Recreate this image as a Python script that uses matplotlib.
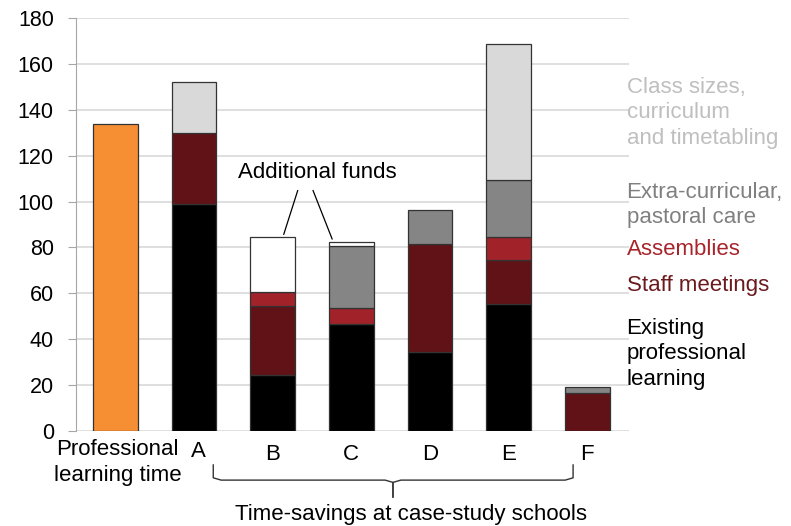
import matplotlib
matplotlib.use("Agg")
import matplotlib.pyplot as plt
import numpy as np

plt.rcParams['font.family'] = ['Liberation Sans', 'DejaVu Sans']

categories = ["Professional\nlearning time", "A", "B", "C", "D", "E", "F"]
prof_learning = [134, 0, 0, 0, 0, 0, 0]
existing = [0, 99, 24.5, 46.5, 34.5, 55.5, 0]
staff_meetings = [0, 31, 30, 0, 47, 19, 16.5]
assemblies = [0, 0, 6, 7, 0, 10, 0]
extra_curricular = [0, 0, 0, 27, 15, 25, 2.8]
class_sizes = [0, 22, 0, 0, 0, 59, 0]
additional_funds = [0, 0, 24, 2, 0, 0, 0]

series = [
    ("Existing\nprofessional\nlearning", existing, "#000000"),
    ("Staff meetings", staff_meetings, "#611217"),
    ("Assemblies", assemblies, "#A12228"),
    ("Extra-curricular,\npastoral care", extra_curricular, "#858585"),
    ("Class sizes,\ncurriculum\nand timetabling", class_sizes, "#D9D9D9"),
    ("Additional funds", additional_funds, "#FFFFFF"),
]
label_colors = {"Existing\nprofessional\nlearning": "#000000",
                "Staff meetings": "#6B1A1E",
                "Assemblies": "#A8242B",
                "Extra-curricular,\npastoral care": "#808080",
                "Class sizes,\ncurriculum\nand timetabling": "#BFBFBF"}
label_y = {"Existing\nprofessional\nlearning": 33.6,
           "Staff meetings": 63.6,
           "Assemblies": 79.3,
           "Extra-curricular,\npastoral care": 98.5,
           "Class sizes,\ncurriculum\nand timetabling": 138.6}

FS = 16
LS = 1.3

fig = plt.figure(figsize=(7.91, 5.26), dpi=100)
ax = fig.add_axes([0.0961, 0.1806, 0.699, 0.7852])

x = np.arange(len(categories))
w = 0.57
edge = "#333333"
ax.bar(x, prof_learning, width=w, color="#F68E33", edgecolor=edge, linewidth=0.9, zorder=3)
bottom = np.zeros(len(categories))
for name, vals, col in series:
    v = np.array(vals, dtype=float)
    mask = v > 0
    ax.bar(x[mask], v[mask], width=w, bottom=bottom[mask], color=col,
           edgecolor=edge, linewidth=0.9, zorder=3)
    bottom = bottom + v

ax.set_xlim(-0.5, 6.53)
ax.set_ylim(0, 180)
ax.set_yticks(np.arange(0, 181, 20))
ax.yaxis.grid(True, color="#D9D9D9", linewidth=1.2, zorder=0)
ax.set_axisbelow(True)
for s in ["top", "right", "bottom"]:
    ax.spines[s].set_visible(False)
ax.spines["left"].set_color("#A6A6A6")
ax.tick_params(axis="y", length=6, color="#A6A6A6", labelsize=15.5, pad=10)
ax.tick_params(axis="x", length=0, labelsize=FS, pad=9)
ax.set_xticks(x[2:])
ax.set_xticklabels(categories[2:])

# first two category labels placed individually
ax.text(0.03, -3.4, categories[0], ha="center", va="top", fontsize=FS,
        linespacing=LS)
ax.text(1.05, -4.3, categories[1], ha="center", va="top", fontsize=FS)

# legend labels at right
for name, _, _ in series[:-1]:
    ax.text(6.5, label_y[name], name, color=label_colors[name], fontsize=FS,
            va="center", ha="left", linespacing=LS, clip_on=False)

# Additional funds annotation
stack = [existing, staff_meetings, assemblies, extra_curricular, class_sizes, additional_funds]
b_top = sum(v[2] for v in stack)
c_top = sum(v[3] for v in stack)
ax.text(2.57, 112.5, "Additional funds", fontsize=FS, ha="center", va="center")
ax.annotate("", xy=(2.13, b_top), xytext=(2.33, 106),
            arrowprops=dict(arrowstyle="-", color="#000000", lw=0.9))
ax.annotate("", xy=(2.77, c_top), xytext=(2.5, 106),
            arrowprops=dict(arrowstyle="-", color="#000000", lw=0.9))

# brace under B-F
xl, xr, xm = 1.245, 5.82, 3.53
ytop, ymid, ybot = -14.8, -21.4, -28.8
ax.plot([xl, xl, xl + 0.1, xm - 0.1, xm, xm],
        [ytop, ymid + 1, ymid, ymid, ymid - 1, ybot], color="#333333", lw=1, clip_on=False)
ax.plot([xm, xm, xm + 0.1, xr - 0.1, xr, xr],
        [ybot, ymid - 1, ymid, ymid, ymid + 1, ytop], color="#333333", lw=1, clip_on=False)
ax.text(3.76, -36.6, "Time-savings at case-study schools", fontsize=FS,
        ha="center", va="center")

fig.savefig("out.png", dpi=100)
